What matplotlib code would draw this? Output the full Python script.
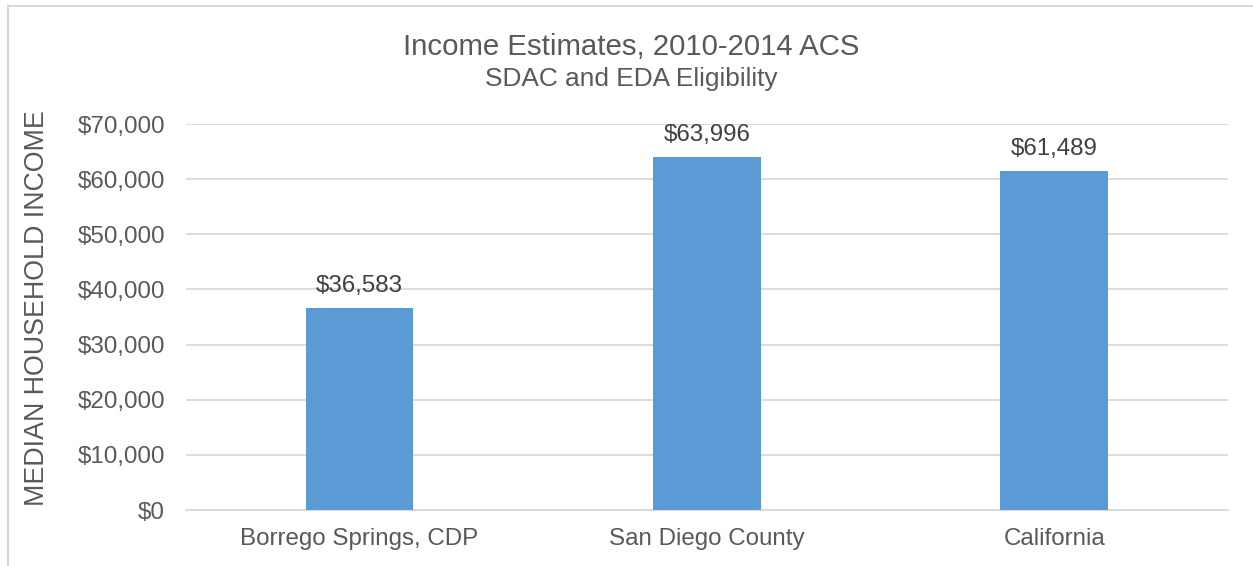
import matplotlib.pyplot as plt
from matplotlib.ticker import FuncFormatter
from matplotlib.patches import Rectangle

plt.rcParams['font.family'] = ['Liberation Sans', 'DejaVu Sans']

# chart data
places = ['Borrego Springs, CDP', 'San Diego County', 'California']
median_income = [36583, 63996, 61489]
y_ticks = [0, 10000, 20000, 30000, 40000, 50000, 60000, 70000]

text_col = '#595959'
grid_col = '#D9D9D9'
bar_col = '#5B9BD5'

fig = plt.figure(figsize=(12.53, 5.66), dpi=100)
ax = fig.add_axes([0.1484, 0.0989, 0.8316, 0.682])

x = range(len(places))
bars = ax.bar(x, median_income, width=0.31, color=bar_col, zorder=3)

ax.set_xlim(-0.5, len(places) - 0.5)
ax.set_ylim(0, 70000)
ax.set_yticks(y_ticks)
ax.yaxis.set_major_formatter(FuncFormatter(lambda v, p: '${:,.0f}'.format(v)))
ax.set_xticks(list(x))
ax.set_xticklabels(places)

ax.grid(axis='y', color=grid_col, linewidth=1.3, zorder=0)
for s in ['top', 'right', 'left']:
    ax.spines[s].set_visible(False)
ax.spines['bottom'].set_color(grid_col)
ax.spines['bottom'].set_linewidth(1.3)
ax.tick_params(axis='both', length=0, labelsize=17.4, colors=text_col)
ax.tick_params(axis='y', pad=15)
ax.tick_params(axis='x', pad=13)

# value labels above bars
for b, v in zip(bars, median_income):
    ax.annotate('${:,}'.format(v), (b.get_x() + b.get_width() / 2, v),
                xytext=(0, 8), textcoords='offset points',
                ha='center', va='bottom', fontsize=17.4, color='#404040')

ax.set_ylabel('MEDIAN HOUSEHOLD INCOME', fontsize=19.3, color=text_col)
ax.yaxis.set_label_coords(50 / 1253, 0.456, transform=fig.transFigure)

fig.text(0.504, 0.917, 'Income Estimates, 2010-2014 ACS', ha='center', va='center',
         fontsize=21.2, color=text_col)
fig.text(0.504, 0.86, 'SDAC and EDA Eligibility', ha='center', va='center',
         fontsize=18.9, color=text_col)

# outer chart border
fig.patches.append(Rectangle((0.0064, -0.05), 1.1, 1.04, transform=fig.transFigure,
                             fill=False, edgecolor=grid_col, linewidth=1.5))

fig.savefig('out.png', dpi=100)
